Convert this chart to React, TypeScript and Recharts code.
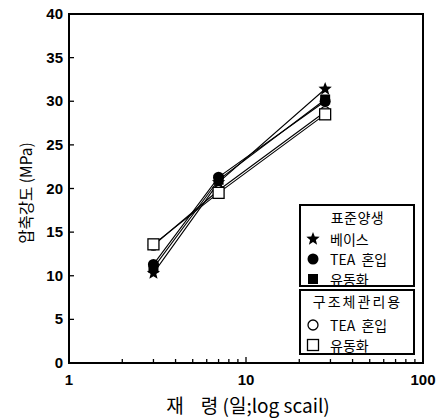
import { LineChart, Line, XAxis, YAxis, ReferenceArea, Legend } from 'recharts'

const NUM_FONT = "'Liberation Sans', Arial, sans-serif"
const KR_FONT = "'Noto Sans CJK KR', 'Noto Sans', sans-serif"

// ages in days (log axis)
const ages = [3, 7, 28]
const base = [10.3, 20.7, 31.4]        // 표준양생 베이스
const teaStd = [11.3, 21.3, 30.0]      // 표준양생 TEA 혼입
const flowStd = [10.9, 21.0, 30.2]     // 표준양생 유동화
const teaStr = [13.5, 19.8, 28.8]      // 구조체관리용 TEA 혼입
const flowStr = [13.6, 19.5, 28.5]     // 구조체관리용 유동화

const xTicks = [1, 2, 3, 4, 5, 6, 7, 8, 9, 10, 20, 30, 40, 50, 60, 70, 80, 90, 100]
const xLabels = [1, 10, 100]
const yTicks = [0, 5, 10, 15, 20, 25, 30, 35, 40]

const data = ages.map((age, i) => ({
  age, base: base[i], teaStd: teaStd[i], flowStd: flowStd[i], teaStr: teaStr[i], flowStr: flowStr[i],
}))

type Kind = 'star' | 'circle' | 'square' | 'ocircle' | 'osquare'

function Marker({ kind, cx, cy }: { kind: Kind; cx: number; cy: number }) {
  if (kind === 'star') {
    const pts: string[] = []
    for (let k = 0; k < 10; k++) {
      const r = k % 2 === 0 ? 7 : 3
      const a = -Math.PI / 2 + (k * Math.PI) / 5
      pts.push(`${cx + r * Math.cos(a)},${cy + r * Math.sin(a)}`)
    }
    return <polygon points={pts.join(' ')} fill="#000" />
  }
  if (kind === 'circle') return <circle cx={cx} cy={cy} r={5.5} fill="#000" />
  if (kind === 'ocircle') return <circle cx={cx} cy={cy} r={5} fill="#fff" stroke="#000" strokeWidth={1.3} />
  if (kind === 'square') return <rect x={cx - 5} y={cy - 5} width={10} height={10} fill="#000" />
  return <rect x={cx - 5.5} y={cy - 5.5} width={11} height={11} fill="#fff" stroke="#000" strokeWidth={1.3} />
}

const dotFor = (kind: Kind) => (p: { cx?: number; cy?: number; index?: number }) =>
  <Marker key={`${kind}-${p.index}`} kind={kind} cx={Number(p.cx)} cy={Number(p.cy)} />

function XTick(props: { x?: number; y?: number; payload?: { value: number } }) {
  const x = Number(props.x), y = Number(props.y), v = props.payload?.value ?? 0
  const major = xLabels.includes(v)
  return (
    <g>
      {v !== 1 && v !== 100 && <line x1={x} x2={x} y1={y} y2={y - (major ? 6 : 4)} stroke="#000" strokeWidth={1.3} />}
      {major && (
        <text x={x} y={y + 22} textAnchor="middle" fontFamily={NUM_FONT} fontWeight="bold" fontSize={15} fill="#000">{v}</text>
      )}
    </g>
  )
}

function YTick(props: { x?: number; y?: number; payload?: { value: number } }) {
  const x = Number(props.x), y = Number(props.y), v = props.payload?.value ?? 0
  return (
    <g>
      {v !== 0 && v !== 40 && <line x1={x} x2={x + 5} y1={y} y2={y} stroke="#000" strokeWidth={1.3} />}
      <text x={x - 6} y={y + 5} textAnchor="end" fontFamily={NUM_FONT} fontWeight="bold" fontSize={15} fill="#000">{v}</text>
    </g>
  )
}

const legendRow = (kind: Kind, label: string) => (
  <div style={{ display: 'flex', alignItems: 'center', height: 20 }}>
    <svg width={24} height={16}><Marker kind={kind} cx={11} cy={8} /></svg>
    <span style={{ marginLeft: 4, whiteSpace: 'pre' }}>{label}</span>
  </div>
)

function LegendBox() {
  const box = { border: '2px solid #000', background: '#fff', width: 116, boxSizing: 'border-box' as const }
  return (
    <div style={{ fontFamily: KR_FONT, fontSize: 14, color: '#000', lineHeight: '16px' }}>
      <div style={{ ...box, height: 83, padding: '3px 0 0 1px' }}>
        <div style={{ textAlign: 'center', height: 20, letterSpacing: 0.5 }}>표준양생</div>
        {legendRow('star', '베이스')}
        {legendRow('circle', 'TEA  혼입')}
        {legendRow('square', '유동화')}
      </div>
      <div style={{ ...box, height: 66, marginTop: 2, padding: '2px 0 0 1px' }}>
        <div style={{ textAlign: 'center', height: 22, letterSpacing: 2 }}>구조체관리용</div>
        {legendRow('ocircle', 'TEA  혼입')}
        {legendRow('osquare', '유동화')}
      </div>
    </div>
  )
}

export default function App() {
  return (
    <div style={{ position: 'absolute', left: 0, top: 0, width: 443, height: 419, background: '#fff' }}>
      <LineChart width={443} height={419} data={data} margin={{ top: 14, right: 20, bottom: 0, left: 9 }}>
        <XAxis dataKey="age" type="number" scale="log" domain={[1, 100]} ticks={xTicks} interval={0}
          allowDataOverflow height={56} tickSize={0} tickMargin={0} tickLine={false}
          axisLine={{ stroke: '#000', strokeWidth: 2 }} tick={XTick} />
        <YAxis type="number" domain={[0, 40]} ticks={yTicks} interval={0} width={60}
          tickSize={0} tickMargin={0} tickLine={false}
          axisLine={{ stroke: '#000', strokeWidth: 2 }} tick={YTick} />
        <ReferenceArea x1={1} x2={100} y1={0} y2={40} fill="none" stroke="#000" strokeWidth={2} fillOpacity={0} />
        <Line dataKey="teaStr" stroke="#000" strokeWidth={1.1} dot={dotFor('ocircle')} isAnimationActive={false} />
        <Line dataKey="flowStr" stroke="#000" strokeWidth={1.1} dot={dotFor('osquare')} isAnimationActive={false} />
        <Line dataKey="flowStd" stroke="#000" strokeWidth={1.1} dot={dotFor('square')} isAnimationActive={false} />
        <Line dataKey="base" stroke="#000" strokeWidth={1.1} dot={dotFor('star')} isAnimationActive={false} />
        <Line dataKey="teaStd" stroke="#000" strokeWidth={1.1} dot={dotFor('circle')} isAnimationActive={false} />
        <Legend layout="horizontal" verticalAlign="middle" align="center" content={() => <LegendBox />}
          wrapperStyle={{ left: 299, top: 204, width: 116 }} />
      </LineChart>
      <div style={{
        position: 'absolute', left: 25, top: 193, transform: 'translate(-50%, -50%) rotate(-90deg)',
        fontFamily: KR_FONT, fontSize: 15.5, whiteSpace: 'nowrap', color: '#000',
      }}>압축강도 (MPa)</div>
      <div style={{
        position: 'absolute', left: 248, top: 404, transform: 'translate(-50%, -50%)',
        fontFamily: KR_FONT, fontSize: 19, whiteSpace: 'pre', color: '#000',
      }}>{'재    령 (일;log scail)'}</div>
    </div>
  )
}
